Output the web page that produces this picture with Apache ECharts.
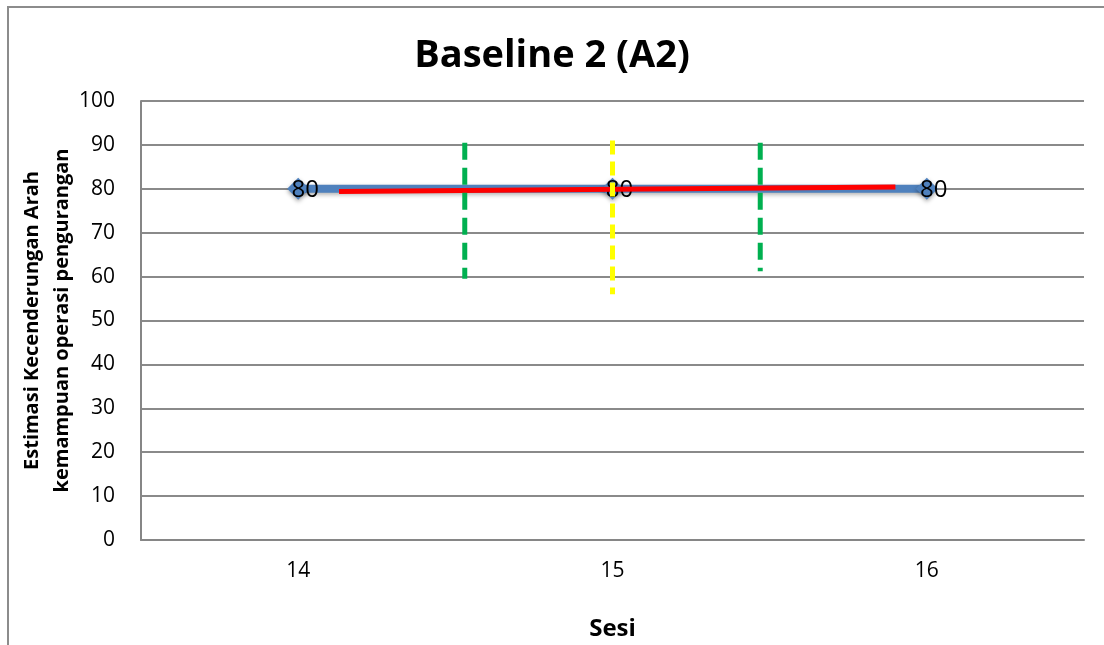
<!DOCTYPE html>
<html>
<head>
    <meta charset="utf-8">
    <title>Baseline 2 (A2)</title>
    <script src="https://cdn.jsdelivr.net/npm/echarts@6/dist/echarts.min.js" type="text/javascript"></script>
    <style>
        html, body { margin: 0; padding: 0; background: #fff; }
        #chart { width: 1104px; height: 645px; }
    </style>
</head>
<body>
<div id="chart"></div>
<script type="text/javascript">

// sesi dan skor
var sessions = ['14', '15', '16'];
var scores = [80, 80, 80];

// garis kecenderungan (merah)
var trendX = [14.13, 15.9];
var trendY = [79.4, 80.4];

// garis putus-putus
var greenLeftX = [14.53, 14.53];
var greenLeftY = [90.5, 59.5];
var yellowX = [15.0, 15.0];
var yellowY = [91, 56];
var greenRightX = [15.47, 15.47];
var greenRightY = [90.5, 61.2];

function pairs(xs, ys) {
    var out = [];
    for (var i = 0; i < xs.length; i++) out.push([xs[i], ys[i]]);
    return out;
}

var font = 'Open Sans';

var myChart = echarts.init(document.getElementById('chart'));
var option = {
    animation: false,
    backgroundColor: '#fff',
    title: {
        text: 'Baseline 2 (A2)',
        left: 'center',
        top: 32,
        textStyle: { fontFamily: font, fontSize: 38, fontWeight: 'bold', color: '#000' }
    },
    graphic: [{
        type: 'rect',
        shape: { x: 8, y: 7, width: 1200, height: 700 },
        style: { fill: null, stroke: '#8c8c8c', lineWidth: 2 },
        silent: true
    }],
    grid: { left: 141, right: 20, top: 101, bottom: 105, outerBoundsMode: 'none' },
    xAxis: [{
        type: 'category',
        data: sessions,
        boundaryGap: true,
        name: 'Sesi',
        nameLocation: 'middle',
        nameGap: 77,
        nameMoveOverlap: false,
        nameTextStyle: { fontFamily: font, fontSize: 24, fontWeight: 'bold', color: '#000' },
        axisLine: { lineStyle: { color: '#868686', width: 2 } },
        axisTick: { show: false },
        axisLabel: { fontFamily: font, fontSize: 21, color: '#000', margin: 21 }
    }, {
        type: 'value',
        min: 13.5,
        max: 16.5,
        show: false
    }],
    yAxis: {
        type: 'value',
        min: 0,
        max: 100,
        interval: 10,
        name: 'Estimasi Kecenderungan Arah\nkemampuan operasi pengurangan',
        nameLocation: 'middle',
        nameGap: 64,
        nameMoveOverlap: false,
        nameTextStyle: { fontFamily: font, fontSize: 20, fontWeight: 'bold', color: '#000', lineHeight: 30 },
        axisLine: { show: true, lineStyle: { color: '#868686', width: 2 } },
        axisTick: { show: false },
        axisLabel: { fontFamily: font, fontSize: 21, color: '#000', margin: 26 },
        splitLine: { lineStyle: { color: '#8a8a8a', width: 2 } }
    },
    series: [{
        type: 'line',
        data: scores,
        xAxisIndex: 0,
        symbol: 'diamond',
        symbolSize: 22,
        lineStyle: { color: '#4f81bd', width: 8, shadowColor: 'rgba(0,0,0,0.3)', shadowBlur: 4, shadowOffsetY: 2 },
        itemStyle: { color: '#4f81bd', shadowColor: 'rgba(0,0,0,0.35)', shadowBlur: 4, shadowOffsetY: 2 },
        label: {
            show: true,
            position: 'inside',
            offset: [7, 1],
            fontFamily: font,
            fontSize: 24,
            color: '#000'
        },
        z: 2
    }, {
        type: 'line',
        xAxisIndex: 1,
        data: pairs(trendX, trendY),
        symbol: 'none',
        lineStyle: { color: '#ff0000', width: 5 },
        z: 3
    }, {
        type: 'line',
        xAxisIndex: 1,
        data: pairs(greenLeftX, greenLeftY),
        symbol: 'none',
        lineStyle: { color: '#00b050', width: 5, type: [17, 8] },
        z: 4
    }, {
        type: 'line',
        xAxisIndex: 1,
        data: pairs(yellowX, yellowY),
        symbol: 'none',
        lineStyle: { color: '#ffff00', width: 5, type: [14, 7] },
        z: 4
    }, {
        type: 'line',
        xAxisIndex: 1,
        data: pairs(greenRightX, greenRightY),
        symbol: 'none',
        lineStyle: { color: '#00b050', width: 5, type: [17, 8] },
        z: 4
    }]
};
myChart.setOption(option);
</script>
</body>
</html>
